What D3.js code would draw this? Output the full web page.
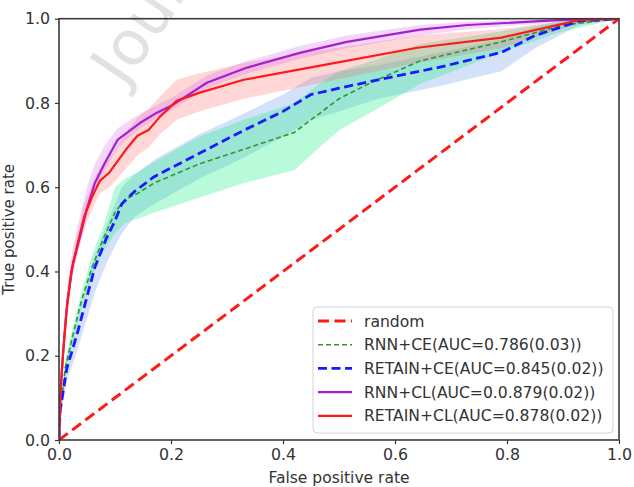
<!DOCTYPE html>
<html>
<head>
<meta charset="utf-8">
<script src="https://cdn.jsdelivr.net/npm/d3@7"></script>
<style>
  html, body { margin: 0; padding: 0; background: #fff; }
  svg { display: block; font-family: "DejaVu Sans", sans-serif; }
</style>
</head>
<body>
<svg id="chart" width="634" height="487"></svg>
<script>
// ROC curves: mean TPR per FPR with a shaded band (lower / upper)
const xTicks = [0, 0.2, 0.4, 0.6, 0.8, 1.0];
const yTicks = [0, 0.2, 0.4, 0.6, 0.8, 1.0];

const randomFpr = [0, 1];
const randomTpr = [0, 1];

// RNN+CE
const fprRnnCe = [0, 0.003, 0.011, 0.025, 0.04, 0.059, 0.08, 0.1, 0.118, 0.14, 0.17, 0.25, 0.33, 0.42, 0.47, 0.5, 0.56, 0.645, 0.79, 0.9, 1];
const tprRnnCe = [0, 0.07, 0.17, 0.25, 0.33, 0.41, 0.48, 0.54, 0.572, 0.585, 0.61, 0.655, 0.69, 0.73, 0.78, 0.81, 0.85, 0.9, 0.945, 0.985, 1];
const loRnnCe  = [0, 0.05, 0.15, 0.23, 0.31, 0.39, 0.45, 0.49, 0.515, 0.525, 0.54, 0.575, 0.61, 0.64, 0.7, 0.735, 0.78, 0.845, 0.92, 0.97, 1];
const hiRnnCe  = [0, 0.09, 0.19, 0.27, 0.35, 0.44, 0.51, 0.6, 0.62, 0.635, 0.66, 0.72, 0.76, 0.8, 0.85, 0.875, 0.9, 0.94, 0.97, 0.995, 1];

// RETAIN+CE
const fprRetainCe = [0, 0.002, 0.014, 0.032, 0.048, 0.064, 0.085, 0.1, 0.112, 0.135, 0.17, 0.25, 0.33, 0.4, 0.45, 0.5, 0.57, 0.68, 0.79, 0.85, 0.93, 1];
const tprRetainCe = [0, 0.07, 0.17, 0.25, 0.33, 0.41, 0.48, 0.52, 0.56, 0.59, 0.625, 0.68, 0.735, 0.78, 0.82, 0.835, 0.855, 0.885, 0.92, 0.96, 0.995, 1];
const loRetainCe  = [0, 0.05, 0.14, 0.21, 0.28, 0.35, 0.42, 0.46, 0.49, 0.53, 0.56, 0.62, 0.67, 0.72, 0.76, 0.78, 0.81, 0.84, 0.875, 0.93, 0.985, 1];
const hiRetainCe  = [0, 0.09, 0.2, 0.28, 0.36, 0.44, 0.51, 0.56, 0.6, 0.63, 0.665, 0.725, 0.775, 0.82, 0.86, 0.875, 0.89, 0.92, 0.95, 0.98, 1, 1];

// RNN+CL
const fprRnnCl = [0, 0.003, 0.008, 0.015, 0.025, 0.037, 0.05, 0.064, 0.082, 0.105, 0.145, 0.175, 0.204, 0.264, 0.336, 0.43, 0.514, 0.645, 0.729, 0.9, 1];
const tprRnnCl = [0, 0.12, 0.22, 0.33, 0.42, 0.48, 0.55, 0.61, 0.658, 0.713, 0.753, 0.777, 0.796, 0.848, 0.884, 0.919, 0.945, 0.974, 0.985, 0.997, 1];
const loRnnCl  = [0, 0.1, 0.2, 0.31, 0.4, 0.46, 0.53, 0.59, 0.64, 0.695, 0.74, 0.765, 0.785, 0.835, 0.87, 0.905, 0.93, 0.96, 0.975, 0.993, 1];
const hiRnnCl  = [0, 0.15, 0.26, 0.37, 0.46, 0.53, 0.6, 0.655, 0.7, 0.74, 0.775, 0.795, 0.815, 0.865, 0.9, 0.935, 0.96, 0.985, 0.993, 1, 1];

// RETAIN+CL
const fprRetainCl = [0, 0.002, 0.007, 0.013, 0.022, 0.034, 0.045, 0.06, 0.073, 0.09, 0.12, 0.14, 0.16, 0.18, 0.21, 0.25, 0.33, 0.44, 0.64, 0.79, 0.93, 1];
const tprRetainCl = [0, 0.1, 0.2, 0.3, 0.4, 0.47, 0.53, 0.58, 0.615, 0.635, 0.69, 0.722, 0.736, 0.767, 0.805, 0.824, 0.855, 0.882, 0.931, 0.955, 0.997, 1];
const loRetainCl  = [0, 0.08, 0.18, 0.28, 0.38, 0.45, 0.5, 0.55, 0.585, 0.6, 0.645, 0.675, 0.695, 0.725, 0.76, 0.78, 0.81, 0.84, 0.895, 0.93, 0.99, 1];
const hiRetainCl  = [0, 0.12, 0.22, 0.32, 0.42, 0.49, 0.56, 0.61, 0.645, 0.67, 0.73, 0.765, 0.785, 0.815, 0.855, 0.87, 0.895, 0.92, 0.96, 0.975, 1, 1];

const legendLabels = [
  "random",
  "RNN+CE(AUC=0.786(0.03))",
  "RETAIN+CE(AUC=0.845(0.02))",
  "RNN+CL(AUC=0.0.879(0.02))",
  "RETAIN+CL(AUC=0.878(0.02))"
];

const svg = d3.select("#chart");
const plotL = 59, plotR = 619, plotT = 18.7, plotB = 440;
const x = d3.scaleLinear().domain([0, 1]).range([plotL, plotR]);
const y = d3.scaleLinear().domain([0, 1]).range([plotB, plotT]);

// faint watermark behind the plot
svg.append("text")
  .attr("transform", "translate(124,88) rotate(-56)")
  .attr("font-size", 62)
  .attr("fill", "#e2e2e2")
  .text("Journal Pre-proof");

svg.append("clipPath").attr("id", "plotclip")
  .append("rect").attr("x", plotL).attr("y", plotT)
  .attr("width", plotR - plotL).attr("height", plotB - plotT);

const plot = svg.append("g").attr("clip-path", "url(#plotclip)");

function zipBand(f, lo, hi) { return f.map((v, i) => ({ f: v, lo: lo[i], hi: hi[i] })); }
function zipLine(f, t) { return f.map((v, i) => ({ f: v, t: t[i] })); }

const area = d3.area().x(d => x(d.f)).y0(d => y(d.lo)).y1(d => y(d.hi));
const line = d3.line().x(d => x(d.f)).y(d => y(d.t));

const bands = [
  { data: zipBand(fprRetainCe, loRetainCe, hiRetainCe), fill: "#6f9cf0", op: 0.3 },
  { data: zipBand(fprRnnCe, loRnnCe, hiRnnCe), fill: "#22ee88", op: 0.32 },
  { data: zipBand(fprRetainCl, loRetainCl, hiRetainCl), fill: "#ff6060", op: 0.25 },
  { data: zipBand(fprRnnCl, loRnnCl, hiRnnCl), fill: "#d060e8", op: 0.25 }
];
bands.forEach(b => {
  plot.append("path").datum(b.data).attr("d", area)
    .attr("fill", b.fill).attr("fill-opacity", b.op).attr("stroke", "none");
});

const series = [
  { data: zipLine(randomFpr, randomTpr), color: "#ff1a1a", width: 3, dash: "11,5.5" },
  { data: zipLine(fprRnnCe, tprRnnCe), color: "#2e9a2e", width: 1.6, dash: "5,3" },
  { data: zipLine(fprRetainCe, tprRetainCe), color: "#1a1aff", width: 2.8, dash: "9,4.5" },
  { data: zipLine(fprRnnCl, tprRnnCl), color: "#a51fd0", width: 2.2, dash: null },
  { data: zipLine(fprRetainCl, tprRetainCl), color: "#ff1a1a", width: 2.2, dash: null }
];
series.forEach(s => {
  plot.append("path").datum(s.data).attr("d", line)
    .attr("fill", "none").attr("stroke", s.color)
    .attr("stroke-width", s.width)
    .attr("stroke-dasharray", s.dash)
    .attr("stroke-linejoin", "round");
});

// axes
const xAxis = d3.axisBottom(x).tickValues(xTicks).tickFormat(d3.format(".1f")).tickSize(4).tickPadding(5);
const yAxis = d3.axisLeft(y).tickValues(yTicks).tickFormat(d3.format(".1f")).tickSize(4).tickPadding(5);
const gx = svg.append("g").attr("transform", `translate(0,${plotB})`).call(xAxis);
const gy = svg.append("g").attr("transform", `translate(${plotL},0)`).call(yAxis);
[gx, gy].forEach(g => {
  g.select(".domain").remove();
  g.selectAll(".tick line").attr("stroke", "#333").attr("stroke-width", 1.2);
  g.selectAll(".tick text").attr("font-size", 15.8).attr("fill", "#333")
    .attr("font-family", "DejaVu Sans, sans-serif");
});

// frame
svg.append("rect")
  .attr("x", plotL).attr("y", plotT)
  .attr("width", plotR - plotL).attr("height", plotB - plotT)
  .attr("fill", "none").attr("stroke", "#3a3a3a").attr("stroke-width", 1.6);

svg.append("text")
  .attr("x", (plotL + plotR) / 2).attr("y", 483)
  .attr("text-anchor", "middle").attr("font-size", 15.5).attr("fill", "#333")
  .text("False positive rate");
svg.append("text")
  .attr("transform", `translate(14,${(plotT + plotB) / 2}) rotate(-90)`)
  .attr("text-anchor", "middle").attr("font-size", 15).attr("fill", "#333")
  .text("True positive rate");

// legend
const leg = svg.append("g");
leg.append("rect")
  .attr("x", 313).attr("y", 307).attr("width", 300).attr("height", 126)
  .attr("rx", 4).attr("fill", "#fff").attr("fill-opacity", 0.85)
  .attr("stroke", "#d4d4d4").attr("stroke-width", 1);
legendLabels.forEach((lab, i) => {
  const s = series[i];
  const yy = 321 + i * 23.7;
  leg.append("line")
    .attr("x1", 318).attr("x2", 352).attr("y1", yy).attr("y2", yy)
    .attr("stroke", s.color).attr("stroke-width", s.width)
    .attr("stroke-dasharray", s.dash);
  leg.append("text")
    .attr("x", 364).attr("y", yy).attr("dy", "0.36em")
    .attr("font-size", 15.6).attr("fill", "#333")
    .text(lab);
});
</script>
</body>
</html>
